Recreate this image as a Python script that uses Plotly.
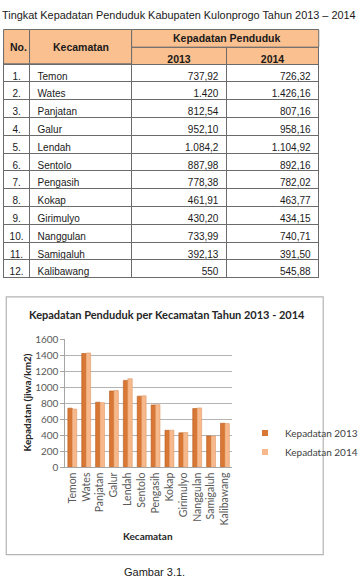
import plotly.graph_objects as go

W, H = 363, 585

# ---------------- data ----------------
kecamatan = ["Temon", "Wates", "Panjatan", "Galur", "Lendah", "Sentolo", "Pengasih",
             "Kokap", "Girimulyo", "Nanggulan", "Samigaluh", "Kalibawang"]
nomor = [f"{i}." for i in range(1, 13)]
kepadatan_2013 = [737.92, 1420, 812.54, 952.10, 1084.2, 887.98, 778.38,
                  461.91, 430.20, 733.99, 392.13, 550]
kepadatan_2014 = [726.32, 1426.16, 807.16, 958.16, 1104.92, 892.16, 782.02,
                  463.77, 434.15, 740.71, 391.50, 545.88]
label_2013 = ["737,92", "1.420", "812,54", "952,10", "1.084,2", "887,98", "778,38",
              "461,91", "430,20", "733,99", "392,13", "550"]
label_2014 = ["726,32", "1.426,16", "807,16", "958,16", "1.104,92", "892,16", "782,02",
              "463,77", "434,15", "740,71", "391,50", "545,88"]
y_ticks = [0, 200, 400, 600, 800, 1000, 1200, 1400, 1600]
series_names = ["Kepadatan 2013", "Kepadatan 2014"]

# ---------------- helpers ----------------
def px(x):
    return x / W

def py(y):
    return 1 - y / H

C_DARK = "#D97734"
C_LIGHT = "#F7B98C"
HDR = "#FAC090"
LINE = "#6b6b6b"
TXT = "#1a1a1a"
TFONT = "Liberation Sans"
CFONT = "Lato"

# table geometry (px)
tx0, tc1, tc2, tc3, tx1 = 4, 33, 147, 253, 356
ty0, ty1, ty2 = 23, 41, 58

fig = go.Figure()

fig.add_trace(go.Table(
    domain=dict(x=[px(tx0), px(tx1)], y=[py(290), py(ty1)]),
    columnwidth=[tc1 - tx0, tc2 - tc1, tc3 - tc2, tx1 - tc3],
    header=dict(values=["", "", "2013", "2014"],
                height=ty2 - ty1, fill_color=HDR, align="center",
                line=dict(color=LINE, width=1),
                font=dict(family=TFONT, size=10.5, color=TXT, weight="bold")),
    cells=dict(values=[nomor, kecamatan, label_2013, label_2014],
               height=17.8, fill_color="white",
               align=["center", "left", "right", "right"],
               line=dict(color=LINE, width=1),
               font=dict(family=TFONT, size=10, color=TXT)),
))

# bars
fig.add_trace(go.Bar(x=kecamatan, y=kepadatan_2013, name=series_names[0],
                     marker=dict(color=C_DARK, line=dict(color="#B65A1C", width=0.6)),
                     showlegend=False))
fig.add_trace(go.Bar(x=kecamatan, y=kepadatan_2014, name=series_names[1],
                     marker=dict(color=C_LIGHT, line=dict(color="#E09A68", width=0.6)),
                     showlegend=False))
# legend proxies (small square markers)
for nm, col in zip(series_names, [C_DARK, C_LIGHT]):
    fig.add_trace(go.Scatter(x=[None], y=[None], mode="markers", name=nm,
                             marker=dict(symbol="square", size=6, color=col)))

shapes = [
    # merged header cells: No. / Kecamatan
    dict(type="rect", xref="paper", yref="paper", x0=px(tx0), x1=px(tc1), y0=py(ty2), y1=py(ty0),
         fillcolor=HDR, line=dict(color=LINE, width=1), layer="above"),
    dict(type="rect", xref="paper", yref="paper", x0=px(tc1), x1=px(tc2), y0=py(ty2), y1=py(ty0),
         fillcolor=HDR, line=dict(color=LINE, width=1), layer="above"),
    dict(type="rect", xref="paper", yref="paper", x0=px(tc2), x1=px(tx1), y0=py(ty1), y1=py(ty0),
         fillcolor=HDR, line=dict(color=LINE, width=1), layer="above"),
    # chart frame
    dict(type="rect", xref="paper", yref="paper", x0=px(7), x1=px(361), y0=py(559), y1=py(296),
         fillcolor="rgba(0,0,0,0)", line=dict(color="#B4B4B4", width=1.2), layer="below"),
]

annotations = [
    dict(text="Tingkat Kepadatan Penduduk Kabupaten Kulonprogo Tahun 2013 – 2014",
         x=px(0), y=py(8), xanchor="left", yanchor="middle",
         font=dict(family=TFONT, size=10.9, color=TXT)),
    dict(text="<b>No.</b>", x=px((tx0 + tc1) / 2 + 2), y=py((ty0 + ty2) / 2),
         font=dict(family=TFONT, size=10.5, color=TXT)),
    dict(text="<b>Kecamatan</b>", x=px((tc1 + tc2) / 2), y=py((ty0 + ty2) / 2),
         font=dict(family=TFONT, size=10.5, color=TXT)),
    dict(text="<b>Kepadatan Penduduk</b>", x=px((tc2 + tx1) / 2 + 2), y=py((ty0 + ty1) / 2),
         font=dict(family=TFONT, size=10.5, color=TXT)),
    # chart titles
    dict(text="<b>Kepadatan Penduduk per Kecamatan Tahun 2013 - 2014</b>",
         x=px(186), y=py(314), font=dict(family=CFONT, size=11, color="#262626")),
    dict(text="<b>Kepadatan (jiwa/km2)</b>", x=px(30), y=py(404), textangle=-90,
         font=dict(family=CFONT, size=10, color="#262626")),
    dict(text="<b>Kecamatan</b>", x=px(165), y=py(540),
         font=dict(family=CFONT, size=10, color="#262626")),
    dict(text="Gambar 3.1.", x=px(173), y=py(577),
         font=dict(family=TFONT, size=11, color=TXT)),
]
for a in annotations:
    a.setdefault("xref", "paper")
    a.setdefault("yref", "paper")
    a.setdefault("showarrow", False)
    a.setdefault("xanchor", "center")
    a.setdefault("yanchor", "middle")

fig.update_layout(
    width=W, height=H,
    margin=dict(l=0, r=0, t=0, b=0),
    paper_bgcolor="white", plot_bgcolor="white",
    barmode="group", bargap=0.36, bargroupgap=0.0,
    shapes=shapes, annotations=annotations,
    xaxis=dict(domain=[px(73), px(259)], type="category",
               tickangle=-90, tickfont=dict(family=CFONT, size=10.5, color="#595959"),
               showline=True, linecolor="#A6A6A6", linewidth=1,
               ticks="", showgrid=False, fixedrange=True),
    yaxis=dict(domain=[py(470), py(339)], range=[0, 1600], tickvals=y_ticks,
               tickfont=dict(family=CFONT, size=10, color="#595959"),
               showline=True, linecolor="#A6A6A6", linewidth=1,
               ticks="outside", ticklen=4, tickcolor="#A6A6A6",
               showgrid=True, gridcolor="#B4B4B4", gridwidth=1,
               zeroline=False, fixedrange=True),
    legend=dict(x=px(274), y=py(420), xanchor="left", yanchor="top",
                font=dict(family=CFONT, size=10, color="#404040"),
                bgcolor="rgba(0,0,0,0)", tracegroupgap=2, itemwidth=30),
    showlegend=True,
)

fig.write_html("out.html")
